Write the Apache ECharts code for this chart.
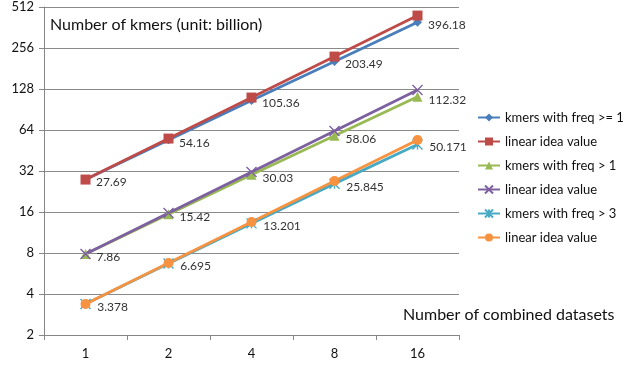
<!DOCTYPE html>
<html>
<head>
<meta charset="utf-8">
<script src="https://cdn.jsdelivr.net/npm/echarts@6/dist/echarts.min.js"></script>
<style>
  html, body { margin: 0; padding: 0; background: #fff; }
  #chart { width: 626px; height: 366px; }
</style>
</head>
<body>
<div id="chart"></div>
<script>
const datasets = ["1", "2", "4", "8", "16"];
const yTicks = [2, 4, 8, 16, 32, 64, 128, 256, 512];

const freqGe1 = [27.69, 54.16, 105.36, 203.49, 396.18];
const idealGe1 = [27.69, 55.38, 110.76, 221.52, 443.04];
const freqGt1 = [7.86, 15.42, 30.03, 58.06, 112.32];
const idealGt1 = [7.86, 15.72, 31.44, 62.88, 125.76];
const freqGt3 = [3.378, 6.695, 13.201, 25.845, 50.171];
const idealGt3 = [3.378, 6.756, 13.512, 27.024, 54.048];

const FONT = "Lato";
const crossPath = "path://M0,0L10,10M10,0L0,10";
const starPath = "path://M0,0L10,10M10,0L0,10M5,0L5,10";

function series(name, data, color, symbol, size, labelled, stroked) {
  return {
    name: name,
    type: "line",
    data: data,
    symbol: symbol,
    symbolSize: size,
    showAllSymbol: true,
    lineStyle: { color: color, width: 2.8 },
    itemStyle: stroked
      ? { color: color, borderColor: color, borderWidth: 1.4 }
      : { color: color, borderWidth: 0 },
    label: {
      show: labelled,
      position: "right",
      distance: 6,
      offset: [0, 3],
      fontFamily: FONT,
      fontSize: 12,
      color: "#333",
    },
    emphasis: { disabled: true },
    animation: false,
  };
}

const chart = echarts.init(document.getElementById("chart"));
chart.setOption({
  backgroundColor: "#fff",
  textStyle: { fontFamily: FONT },
  grid: { left: 44, right: 167, top: 7, bottom: 31 },
  title: [
    {
      text: "Number of kmers (unit: billion)",
      left: 50,
      top: 17,
      padding: 0,
      textStyle: { fontFamily: FONT, fontSize: 16, fontWeight: "normal", color: "#111" },
    },
    {
      text: "Number of combined datasets",
      left: 403,
      top: 307,
      padding: 0,
      textStyle: { fontFamily: FONT, fontSize: 16, fontWeight: "normal", color: "#111" },
    },
  ],
  legend: {
    orient: "vertical",
    left: 477,
    top: 111,
    padding: 0,
    itemWidth: 22,
    itemHeight: 10,
    itemGap: 11,
    textStyle: { fontFamily: FONT, fontSize: 13, color: "#111" },
  },
  xAxis: {
    type: "category",
    data: datasets,
    boundaryGap: true,
    axisLine: { lineStyle: { color: "#868686", width: 1 } },
    axisTick: { show: true, length: 5, lineStyle: { color: "#868686" } },
    axisLabel: { fontFamily: FONT, fontSize: 13, color: "#111", margin: 12 },
  },
  yAxis: {
    type: "log",
    logBase: 2,
    min: yTicks[0],
    max: yTicks[yTicks.length - 1],
    interval: 1,
    axisLine: { show: true, lineStyle: { color: "#868686", width: 1 } },
    axisTick: { show: true, length: 5, lineStyle: { color: "#868686" } },
    axisLabel: { fontFamily: FONT, fontSize: 13, color: "#111", margin: 10 },
    splitLine: { lineStyle: { color: "#8a8a8a", width: 1 } },
  },
  series: [
    series("kmers with freq >= 1", freqGe1, "#4A7EBB", "diamond", 9, true, false),
    series("linear idea value", idealGe1, "#BE4B48", "rect", 10, false, false),
    series("kmers with freq > 1", freqGt1, "#98B954", "triangle", 10, true, false),
    series("linear idea value ", idealGt1, "#7D60A0", crossPath, 10, false, true),
    series("kmers with freq > 3", freqGt3, "#46AAC5", starPath, 10, true, true),
    series("linear idea value  ", idealGt3, "#F69240", "circle", 10, false, false),
  ],
});
</script>
</body>
</html>
